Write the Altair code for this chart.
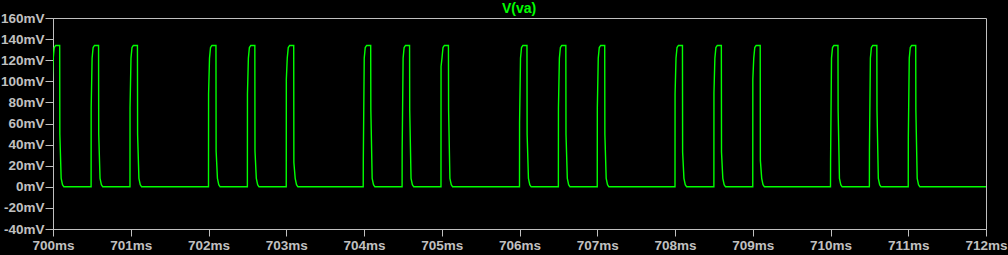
import altair as alt
import pandas as pd

# pulse rise times (ms)
rise_ms = [699.99, 700.49, 700.99, 702.0, 702.5, 703.0, 703.99, 704.49, 704.99,
           706.0, 706.5, 707.0, 708.0, 708.5, 709.0, 710.0, 710.5, 711.0]
# first level reached on the rising edge (mV)
rise_level = [100, 75, 75, 88, 88, 102, 25, 35, 114, 61, 75, 75, 88, 89, 102, 25, 35, 47]
# first level reached on the falling edge (mV)
fall_level = [50, 50, 50, 34, 34, 23, 73, 73, 73, 50, 50, 50, 33, 33, 25, 73, 73, 73]

# pulse outline: offsets from the rise (ms) and levels (mV); "R"/"F" -> per-pulse value
shape_dt = [0.0, 0.001, 0.013, 0.026, 0.044, 0.096, 0.098, 0.115, 0.132, 0.150]
shape_mv = [0, "R", 122, 132, 134, 134, "F", 8, 2, 0]

end_ms = 712.0
y_ticks = [-40, -20, 0, 20, 40, 60, 80, 100, 120, 140, 160]
x_ticks = [700, 701, 702, 703, 704, 705, 706, 707, 708, 709, 710, 711, 712]
trace_names = ["V(va)"]

rows = []
i = 0
for t0, r, f in zip(rise_ms, rise_level, fall_level):
    for dt, v in zip(shape_dt, shape_mv):
        val = r if v == "R" else (f if v == "F" else v)
        rows.append({"t": t0 + dt, "v": val, "i": i})
        i += 1
rows.append({"t": end_ms, "v": 0, "i": i})
df = pd.DataFrame(rows)

GRAY = "#c0c0c0"
GREEN = "#00ff00"
FONT = "Liberation Sans"

line = alt.Chart(df).mark_line(color=GREEN, strokeWidth=1.4, clip=True, interpolate="linear").encode(
    x=alt.X("t:Q",
            scale=alt.Scale(domain=[700, 712], nice=False, zero=False),
            axis=alt.Axis(values=x_ticks, labelExpr="datum.value + 'ms'", title=None,
                          grid=False, tickSize=7, labelPadding=2, labelFlush=False)),
    y=alt.Y("v:Q",
            scale=alt.Scale(domain=[-40, 160], nice=False, zero=False),
            axis=alt.Axis(values=y_ticks, labelExpr="datum.value + 'mV'", title=None,
                          grid=False, tickSize=8, labelPadding=1)),
    order="i:Q",
)

label = alt.Chart(pd.DataFrame({"name": trace_names})).mark_text(
    color=GREEN, font=FONT, fontSize=14, fontWeight="bold",
    align="center", baseline="bottom", clip=False
).encode(
    text="name:N",
    x=alt.value(466),
    y=alt.value(-2),
)

chart = alt.layer(line, label).properties(
    width=933,
    height=211,
    background="black",
    padding={"left": 53, "top": 18, "right": 22, "bottom": 26},
    autosize=alt.AutoSizeParams(type="none"),
).configure_view(
    stroke=GRAY, strokeWidth=1, fill="black"
).configure_axis(
    domainColor=GRAY, tickColor=GRAY, labelColor=GRAY, labelFont=FONT,
    labelFontSize=13.5, labelFontWeight="bold", domainWidth=1, tickWidth=1
)

chart.save("out.html", embed_options={"renderer": "svg", "actions": False})
